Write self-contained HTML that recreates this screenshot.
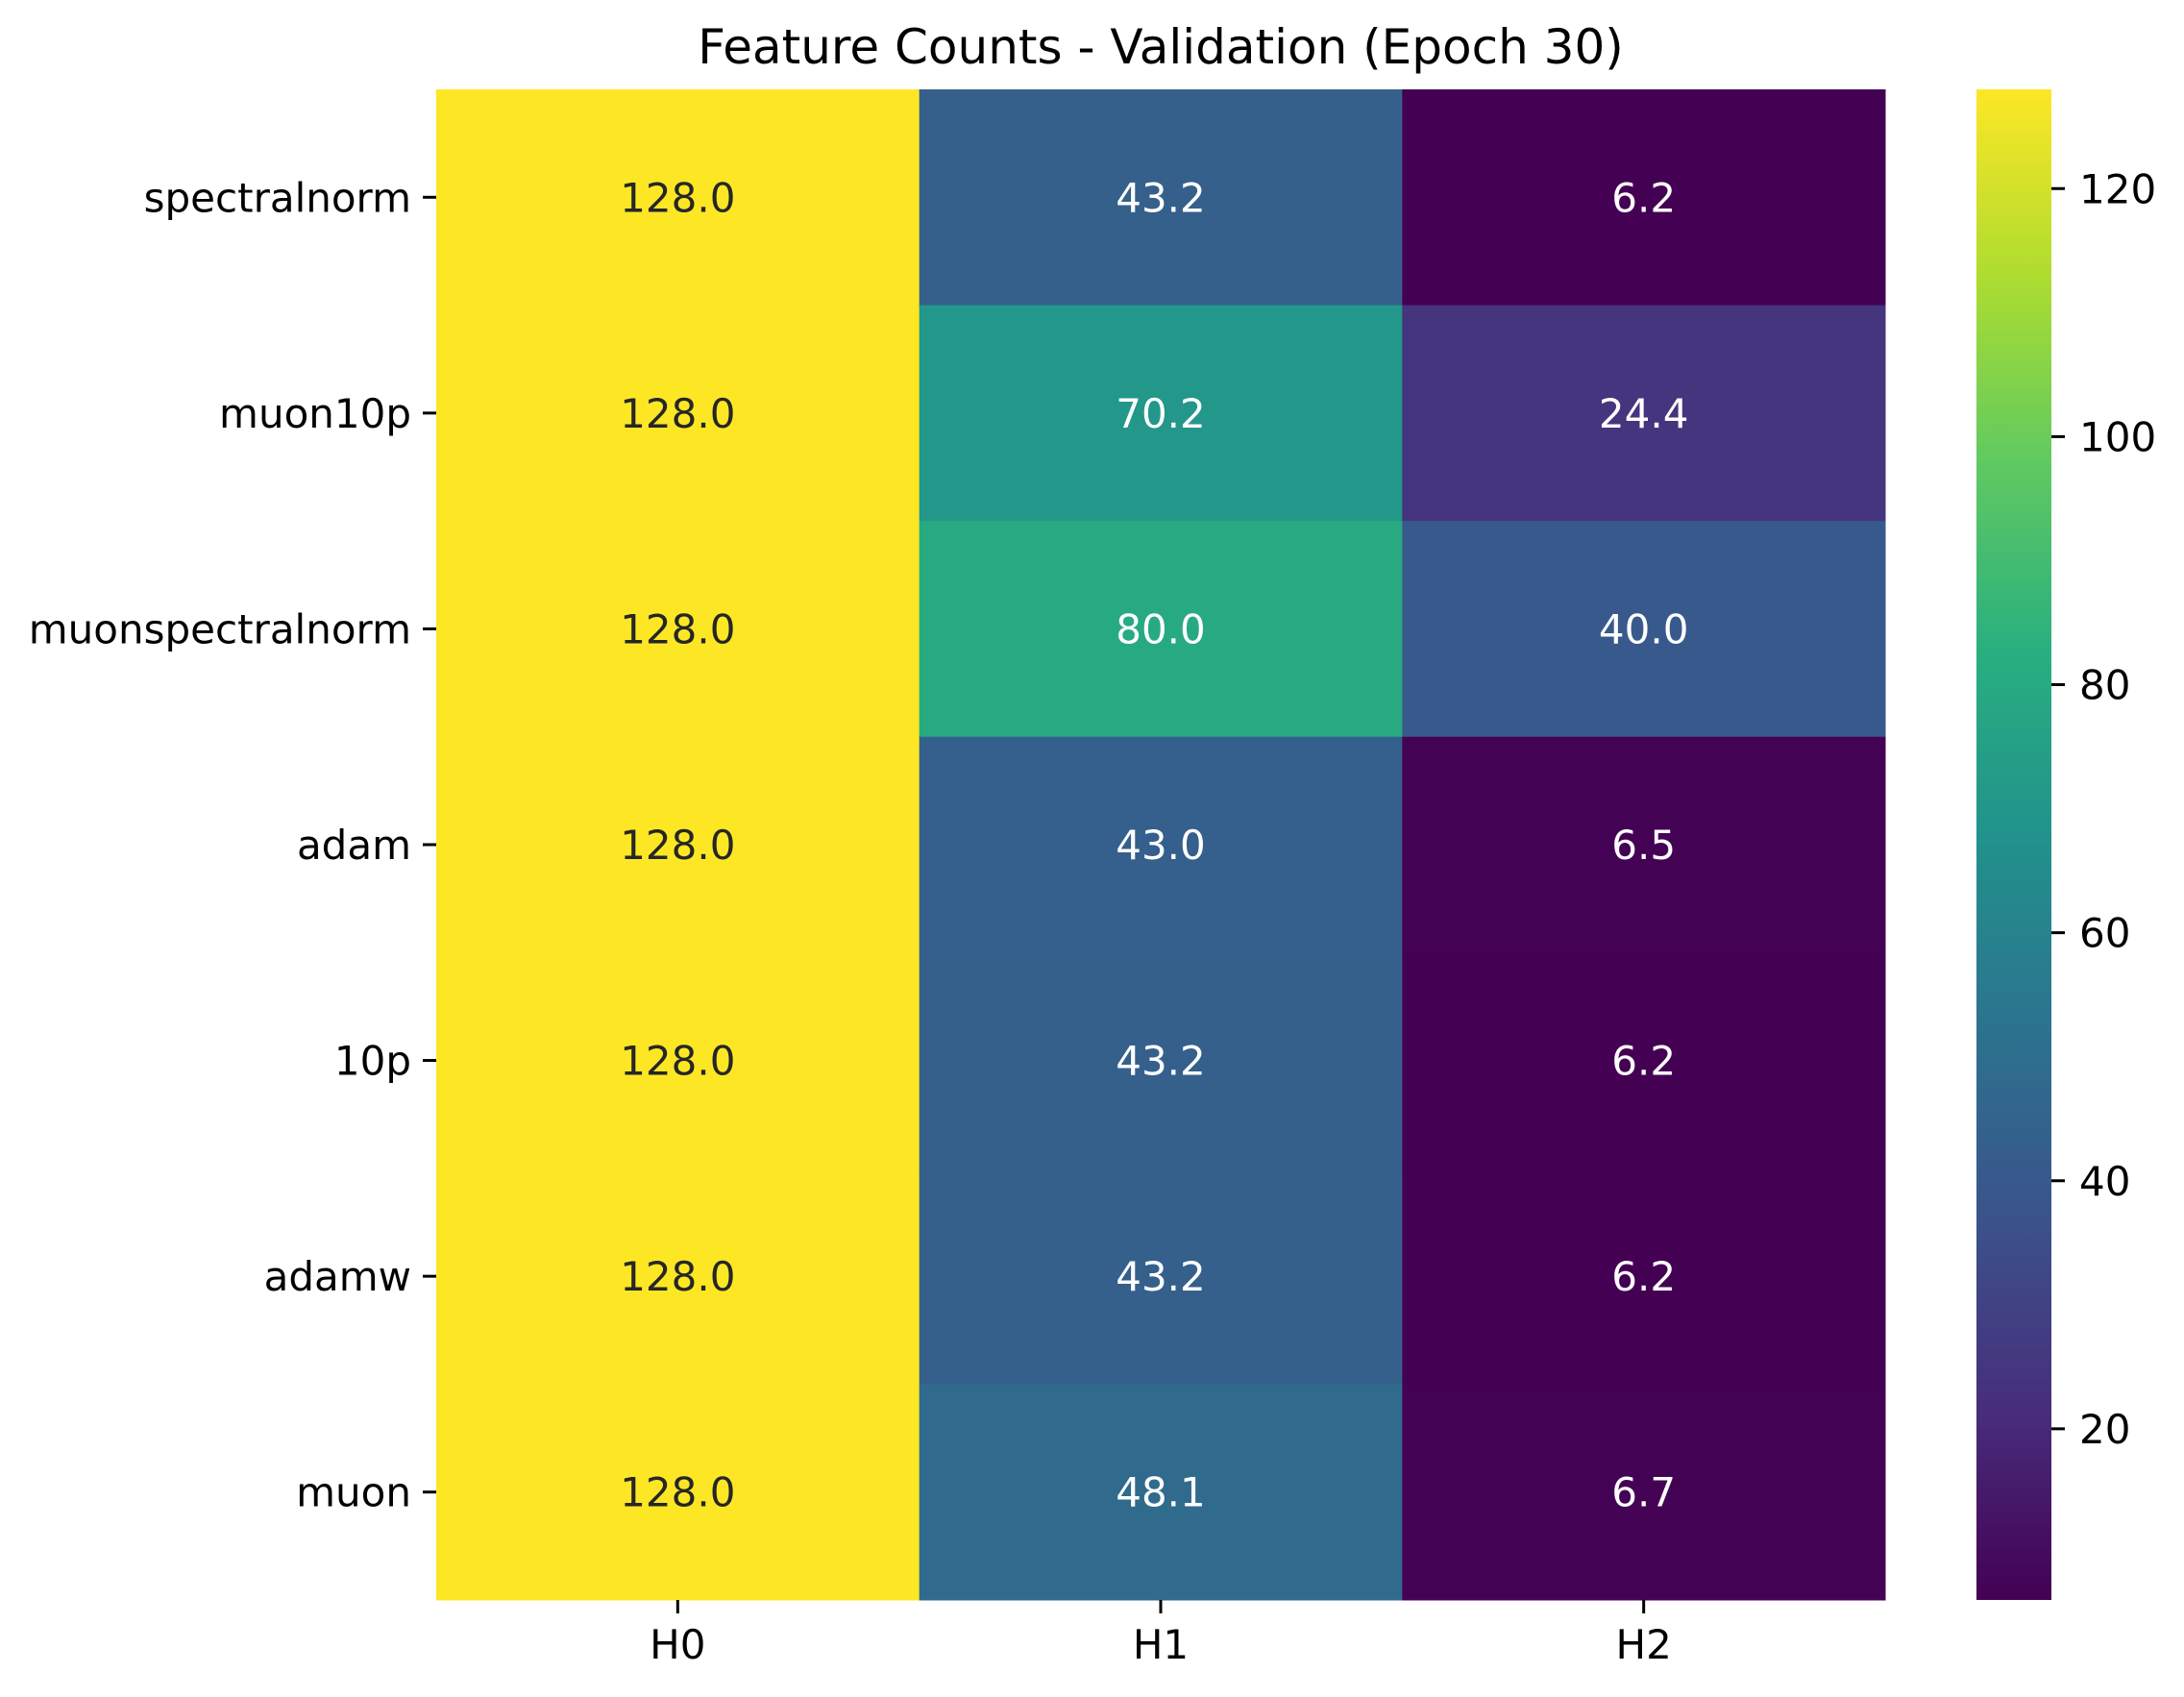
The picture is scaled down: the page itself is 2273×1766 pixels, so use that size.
<!DOCTYPE html>
<html><head><meta charset="utf-8"><style>
html,body{margin:0;padding:0;background:#fff;}
svg{display:block;font-family:"DejaVu Sans","Liberation Sans",sans-serif;}
</style></head><body>
<svg id="chart" width="2273" height="1766" viewBox="0 0 2273 1766" xmlns="http://www.w3.org/2000/svg">
<defs><linearGradient id="vir" x1="0" y1="1" x2="0" y2="0">
<stop offset="0" stop-color="#440154"/><stop offset="0.125" stop-color="#472d7b"/><stop offset="0.25" stop-color="#3b528b"/><stop offset="0.375" stop-color="#2c728e"/><stop offset="0.5" stop-color="#21918c"/><stop offset="0.625" stop-color="#28ae80"/><stop offset="0.75" stop-color="#5ec962"/><stop offset="0.875" stop-color="#addc30"/><stop offset="1" stop-color="#fde725"/>
</linearGradient></defs>
<text x="1208" y="66" font-size="50" text-anchor="middle" fill="#000">Feature Counts - Validation (Epoch 30)</text>
<g id="cells"></g>
<g id="axes"></g>
<rect x="2057" y="93" width="78" height="1572" fill="url(#vir)"/>
<g id="cbar"></g>
</svg>
<script>
const rows = ["spectralnorm","muon10p","muonspectralnorm","adam","10p","adamw","muon"];
const cols = ["H0","H1","H2"];
const colH0 = [128.0,128.0,128.0,128.0,128.0,128.0,128.0];
const colH1 = [43.2,70.2,80.0,43.0,43.2,43.2,48.1];
const colH2 = [6.2,24.4,40.0,6.5,6.2,6.2,6.7];
const cbarTicks = [20,40,60,80,100,120];

const NS="http://www.w3.org/2000/svg";
const L=454,R=1962,T=93,B=1665;
const series=[colH0,colH1,colH2];
const all=series.flat();
const vmin=Math.min(...all), vmax=Math.max(...all);
const cw=(R-L)/cols.length, rh=(B-T)/rows.length;
const xPos=i=>L+i*cw, yPos=j=>T+j*rh;
const cbY=v=>B-(v-vmin)/(vmax-vmin)*(B-T);
const vir=[[68,1,84],[71,45,123],[59,82,139],[44,114,142],[33,145,140],[40,174,128],[94,201,98],[173,220,48],[253,231,37]];
function cmap(v){let t=(v-vmin)/(vmax-vmin);t=Math.max(0,Math.min(1,t));const p=t*8,i=Math.min(7,Math.floor(p)),f=p-i;const a=vir[i],b=vir[i+1];return `rgb(${a.map((c,k)=>Math.round(c+(b[k]-c)*f)).join(',')})`;}
function mk(tag,attrs,parent){const e=document.createElementNS(NS,tag);for(const k in attrs)e.setAttribute(k,attrs[k]);parent.appendChild(e);return e;}
const cells=document.getElementById('cells'),axes=document.getElementById('axes'),cb=document.getElementById('cbar');
series.forEach((s,i)=>s.forEach((v,j)=>{
  const r=mk('rect',{x:xPos(i),y:yPos(j),width:cw+0.5,height:rh+0.5,fill:cmap(v)},cells);
  
  
  const t=mk('text',{x:xPos(i)+cw/2,y:yPos(j)+rh/2+15,'font-size':42,'text-anchor':'middle',fill:(v-vmin)/(vmax-vmin)>0.8?'#262626':'#ffffff'},cells);
  t.textContent=v.toFixed(1);
  
  
}));
rows.forEach((r,j)=>{
  const y=yPos(j)+rh/2;
  const tk=mk('line',{x1:L-14,x2:L,y1:y,y2:y,stroke:'#000','stroke-width':3},axes);
  
  
  const t=mk('text',{x:L-26,y:y+15,'font-size':42,'text-anchor':'end',fill:'#000'},axes);
  t.textContent=r;
  
  
});
cols.forEach((c,i)=>{
  const x=xPos(i)+cw/2;
  const tk=mk('line',{x1:x,x2:x,y1:B,y2:B+14,stroke:'#000','stroke-width':3},axes);
  
  
  const t=mk('text',{x:x,y:B+61,'font-size':42,'text-anchor':'middle',fill:'#000'},axes);
  t.textContent=c;
  
  
});
cbarTicks.forEach(v=>{
  const y=cbY(v);
  const tk=mk('line',{x1:2135,x2:2149,y1:y,y2:y,stroke:'#000','stroke-width':3},cb);
  
  
  const t=mk('text',{x:2164,y:y+15,'font-size':42,fill:'#000'},cb);
  t.textContent=v;
  
  
});
</script>
</body></html>
